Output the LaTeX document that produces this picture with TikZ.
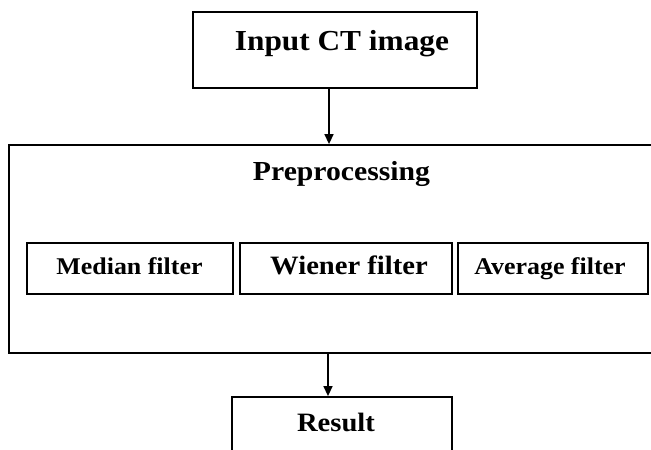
\documentclass[tikz,border=0pt]{standalone}
\usepackage{fontspec}
\setmainfont{Liberation Serif}[FakeStretch=1.08]
\usetikzlibrary{arrows.meta}
\tikzset{
  box/.style={draw=black, line width=1.8pt, rectangle, inner sep=0pt},
  lbl/.style={anchor=base, inner sep=0pt, font=\bfseries},
  arr/.style={draw=black, line width=1.4pt, -{Triangle[length=10pt,width=9pt]}}
}
\begin{document}
\begin{tikzpicture}[x=1pt,y=-1pt]
\useasboundingbox (0,0) rectangle (651,450);
\clip (0,0) rectangle (651,450);
% boxes
\node[box, minimum width=284pt, minimum height=76pt] (inp) at (335,50) {};
\node[box, minimum width=660pt, minimum height=208pt] (prep) at (339,249) {};
\node[box, minimum width=206pt, minimum height=51pt] (med) at (130,268.5) {};
\node[box, minimum width=212pt, minimum height=51pt] (wie) at (346,268.5) {};
\node[box, minimum width=190pt, minimum height=51pt] (avg) at (553,268.5) {};
\node[box, minimum width=220pt, minimum height=80pt] (res) at (342,437) {};
% texts
\node[lbl, font=\bfseries\fontsize{29}{33}\selectfont] (tinp) at (342,50) {Input CT image};
\node[lbl, font=\bfseries\fontsize{27.5}{31}\selectfont] (tprep) at (341.5,180) {Preprocessing};
\node[lbl, font=\bfseries\fontsize{24}{28}\selectfont] (tmed) at (129.5,274) {Median filter};
\node[lbl, font=\bfseries\fontsize{26.5}{30}\selectfont] (twie) at (349,274) {Wiener filter};
\node[lbl, font=\bfseries\fontsize{24}{28}\selectfont] (tavg) at (550,274) {Average filter};
\node[lbl, font=\bfseries\fontsize{26.5}{30}\selectfont] (tres) at (336,431) {Result};
% connectors
\coordinate (a1) at (329,0);
\coordinate (a2) at (328,0);
\draw[arr] (inp.south -| a1) -- (prep.north -| a1);
\draw[arr] (prep.south -| a2) -- (res.north -| a2);
\end{tikzpicture}
\end{document}
